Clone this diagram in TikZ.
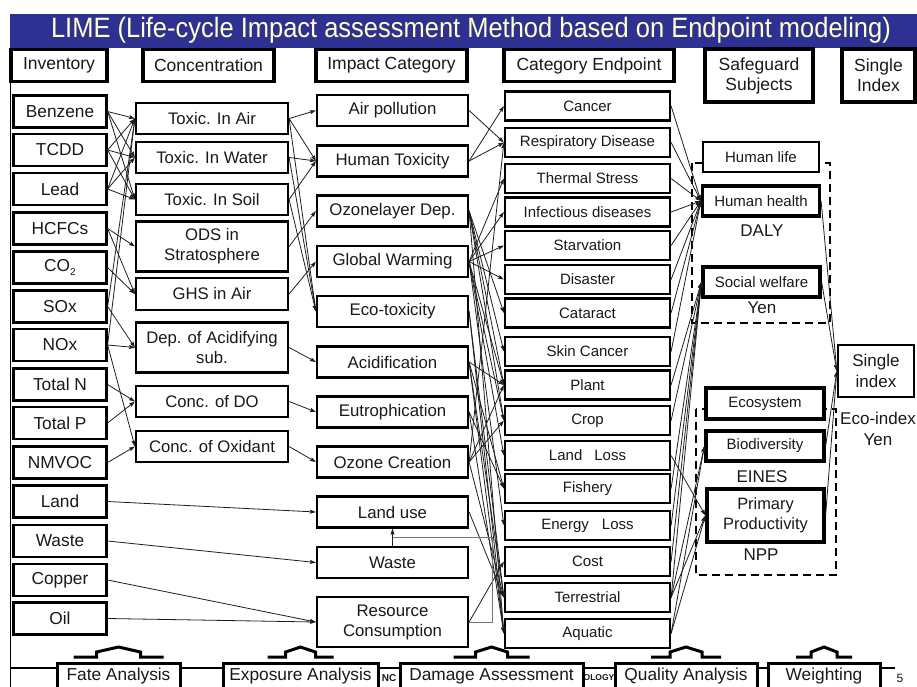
\documentclass[tikz,border=0pt]{standalone}
\usepackage{fontspec}
\usepackage{graphicx}
\setmainfont{Liberation Sans}
\usetikzlibrary{arrows.meta}
\definecolor{barblue}{RGB}{46,49,146}
\definecolor{bartext}{RGB}{255,255,204}
\definecolor{ink}{RGB}{25,25,25}
\definecolor{wire}{RGB}{30,30,30}
\definecolor{greywire}{RGB}{115,115,115}
\newcommand{\fsz}[2]{\fontsize{#1}{#2}\selectfont}
% raised "hat" drawn above each footer label: centre, outer and inner half widths
\newcommand{\footcap}[3]{%
  \draw[capline] ({#1-#2},657) -- ({#1-#3},657) -- ({#1-#3},652) -- (#1,647)
    -- ({#1+#3},652) -- ({#1+#3},657) -- ({#1+#2},657);}
% open-bottom frame round a footer label
\newcommand{\footframe}[2]{%
  \fill[white] (#1,663) rectangle (#2,687);
  \draw[capline] (#1,687) -- (#1,663) -- (#2,663) -- (#2,687);}
\begin{document}
\begin{tikzpicture}[x=1pt,y=-1pt,
  base/.style={draw=black,fill=white,text=ink,inner sep=1pt,align=center},
  hdr/.style={base,line width=3.2pt,font=\fsz{17.5}{20}},
  inv/.style={base,line width=2.2pt,minimum width=93pt,minimum height=32pt,font=\fsz{17.3}{20}},
  conc/.style={base,line width=2.2pt,minimum width=152pt,minimum height=31pt,font=\fsz{16.7}{20}},
  imp/.style={base,line width=2.2pt,minimum width=151pt,minimum height=31pt,font=\fsz{16.8}{20}},
  endp/.style={base,line width=2.2pt,minimum width=165pt,minimum height=29pt,font=\fsz{15}{18}},
  safe/.style={base,line width=3.2pt,minimum width=117pt,minimum height=30pt,font=\fsz{15}{20}},
  tag/.style={text=ink,inner sep=0pt,font=\fsz{17}{21},align=center},
  foot/.style={text=ink,inner sep=0pt,font=\fsz{17.3}{20}},
  conn/.style={draw=wire,line width=0.8pt,-{Stealth[length=6pt,width=4pt,inset=1pt]}},
  greylink/.style={draw=greywire,line width=0.9pt},
  dashbox/.style={draw=black,line width=2pt,dash pattern=on 8pt off 5pt},
  capline/.style={draw=black,line width=3pt,line join=miter},
]
\useasboundingbox (0,0) rectangle (917,687);
\fill[white] (0,0) rectangle (917,687);

% title bar
\fill[barblue] (10,14) rectangle (917,48);
\node[inner sep=0pt,text=bartext] (title) at (471,30.5)
  {\scalebox{0.91}[1]{\fsz{28}{28}LIME (Life-cycle Impact assessment Method based on Endpoint modeling)}};

% slide frame lines
\draw[line width=1.2pt] (10.5,48) -- (10.5,687);
\draw[line width=1.2pt] (10.5,668) -- (895,668);

% column headers
\node[hdr,minimum width=96pt,minimum height=32pt] (hInv) at (59,65.5) {Inventory};
\node[hdr,minimum width=131pt,minimum height=32pt] (hConc) at (208.5,65.5) {Concentration};
\node[hdr,minimum width=151pt,minimum height=32pt] (hImp) at (391.5,65.5) {Impact Category};
\node[hdr,minimum width=170pt,minimum height=32pt] (hEnd) at (589,65.5) {Category Endpoint};
\node[hdr,minimum width=108pt,minimum height=53pt] (hSafe) at (759,75.5) {Safeguard\\Subjects};
\node[hdr,minimum width=73pt,minimum height=53pt] (hSingle) at (878.5,75.5) {Single\\Index};

% dashed groupings of safeguard subjects
\draw[dashbox] (692,163) rectangle (830,323);
\draw[dashbox] (696,409) rectangle (836,575);

% inventory
\node[inv] (benz)   at (60,111.5) {Benzene};
\node[inv] (tcdd)   at (60,150)   {TCDD};
\node[inv] (lead)   at (60,189)   {Lead};
\node[inv] (hcfc)   at (60,228.5) {HCFCs};
\node[inv] (co2)    at (60,267.5) {CO\raisebox{-0.4ex}{\fsz{10}{10}2}};
\node[inv] (sox)    at (60,306.5) {SOx};
\node[inv] (nox)    at (60,345)   {NOx};
\node[inv] (totn)   at (60,384.5) {Total N};
\node[inv] (totp)   at (60,423)   {Total P};
\node[inv] (nmvoc)  at (60,462.5) {NMVOC};
\node[inv] (land)   at (60,501.5) {Land};
\node[inv] (wastei) at (60,541)   {Waste};
\node[inv] (copper) at (60,580)   {Copper};
\node[inv] (oil)    at (60,618.5) {Oil};

% concentration
\node[conc] (tair)   at (212,118.5) {Toxic. In Air};
\node[conc] (twater) at (212,157.5) {Toxic. In Water};
\node[conc] (tsoil)  at (212,199.5) {Toxic. In Soil};
\node[conc,minimum height=50pt] (ods) at (212,246.5) {ODS in\\Stratosphere};
\node[conc,minimum height=32pt] (ghs) at (212,294) {GHS in Air};
\node[conc,minimum height=50pt] (dep) at (212,347.5) {Dep. of Acidifying\\sub.};
\node[conc] (cdo)    at (212,401.5) {Conc. of DO};
\node[conc] (cox)    at (212,446.5) {Conc. of Oxidant};

% impact categories
\node[imp] (airp)   at (392.5,110.5) {Air pollution};
\node[imp] (htox)   at (392.5,161)   {Human Toxicity};
\node[imp] (ozl)    at (392.5,211)   {Ozonelayer Dep.};
\node[imp] (gw)     at (392.5,261.5) {Global Warming};
\node[imp] (ecot)   at (392.5,311.5) {Eco-toxicity};
\node[imp] (acid)   at (392.5,362)   {Acidification};
\node[imp] (eutro)  at (392.5,412)   {Eutrophication};
\node[imp] (ozc)    at (392.5,462)   {Ozone Creation};
\node[imp] (luse)   at (392.5,512)   {Land use};
\node[imp] (wastec) at (392.5,562.5) {Waste};
\node[imp,minimum height=50pt] (resc) at (392.5,622) {Resource\\Consumption};

% category endpoints
\node[endp] (cancer) at (587.5,106)   {Cancer};
\node[endp] (resp)   at (587.5,142.5) {Respiratory Disease};
\node[endp] (therm)  at (587.5,178.5) {Thermal Stress};
\node[endp] (infect) at (587.5,212)   {Infectious diseases};
\node[endp] (starv)  at (587.5,245.5) {Starvation};
\node[endp] (disas)  at (587.5,279.5) {Disaster};
\node[endp] (catar)  at (587.5,313)   {Cataract};
\node[endp] (skin)   at (587.5,351.5) {Skin Cancer};
\node[endp] (plant)  at (587.5,385)   {Plant};
\node[endp] (crop)   at (587.5,420.5) {Crop};
\node[endp] (lloss)  at (587.5,455.5) {Land\hspace{12pt}Loss};
\node[endp] (fish)   at (587.5,488.5) {Fishery};
\node[endp] (energy) at (587.5,525.5) {Energy\hspace{13pt}Loss};
\node[endp] (cost)   at (587.5,561.5) {Cost};
\node[endp] (terr)   at (587.5,597.5) {Terrestrial};
\node[endp] (aqua)   at (587.5,633.5) {Aquatic};

% safeguard subjects
\node[safe,line width=2.2pt,minimum width=116pt] (hlife) at (761,157) {Human life};
\node[safe] (hhealth) at (761,201)   {Human health};
\node[tag]  (daly)    at (762,231)   {DALY};
\node[safe] (swel)    at (761.5,282) {Social welfare};
\node[tag]  (yen1)    at (762,308)   {Yen};
\node[safe,minimum width=118pt,minimum height=31pt] (ecosys) at (765,403.5) {Ecosystem};
\node[safe,minimum width=118pt] (biod) at (765,446) {Biodiversity};
\node[tag]  (eines)   at (762,477)   {EINES};
\node[safe,minimum width=117pt,minimum height=53pt,font=\fsz{16.4}{20}] (prim) at (765.5,515.5) {Primary\\Productivity};
\node[tag]  (npp)     at (761,555)   {NPP};

% single index
\node[base,line width=2.4pt,minimum width=76pt,minimum height=52pt,font=\fsz{17}{21}] (single) at (876,371) {Single\\index};
\node[tag] (ecoidx) at (878,428.5) {Eco-index\\Yen};

% inventory -> concentration
\foreach \s/\t in {benz/tair,benz/twater,benz/tsoil,tcdd/tair,tcdd/twater,tcdd/tsoil,
  lead/tair,lead/twater,lead/tsoil,hcfc/ods,hcfc/ghs,co2/ghs,sox/tair,nox/tair,
  sox/dep,nox/dep,nox/cox,totn/cdo,totp/cdo,nmvoc/cox}
  \draw[conn] (\s.east) -- (\t.west);

% inventory -> impact category (direct)
\foreach \s/\t in {land/luse,wastei/wastec,copper/resc,oil/resc}
  \draw[conn] (\s.east) -- (\t.west);

% concentration -> impact category
\foreach \s/\t in {tair/airp,tair/htox,tair/ecot,twater/htox,twater/ecot,tsoil/htox,
  tsoil/ecot,ods/ozl,ghs/gw,dep/acid,cdo/eutro,cox/ozc}
  \draw[conn] (\s.east) -- (\t.west);

% impact category -> category endpoint
\foreach \s/\t in {airp/resp,htox/cancer,htox/resp,
  ozl/catar,ozl/skin,ozl/plant,ozl/crop,ozl/aqua,
  gw/therm,gw/infect,gw/starv,gw/disas,gw/plant,gw/crop,gw/lloss,gw/energy,
  ecot/terr,ecot/aqua,acid/plant,acid/fish,acid/terr,acid/aqua,
  eutro/fish,eutro/aqua,ozc/resp,ozc/plant,ozc/crop,ozc/terr,
  luse/terr,resc/cost}
  \draw[conn] (\s.east) -- (\t.west);

% waste and resource consumption feed land use
\coordinate (lujoin) at (392.5,537);
\coordinate (rbend1) at (492,622);
\coordinate (rbend2) at (492,537);
\draw[greylink] (resc.east) -- (rbend1) -- (rbend2) -- (lujoin);
\draw[conn] (wastec.north) -- (luse.south);

% category endpoint -> safeguard subjects
\foreach \s/\t in {cancer/hhealth,resp/hhealth,therm/hhealth,infect/hhealth,
  starv/hhealth,disas/hhealth,catar/hhealth,skin/hhealth,
  plant/swel,crop/swel,fish/swel,energy/swel,cost/swel,terr/swel,
  terr/biod,aqua/biod,lloss/prim,terr/prim,aqua/prim}
  \draw[conn] (\s.east) -- (\t.west);

% safeguard subjects -> single index
\foreach \s in {hhealth,swel,biod,prim}
  \draw[conn] (\s.east) -- (single.west);

% footer strip
\node[inner sep=0pt,font=\bfseries\fsz{10}{10},text=ink] (ftA) at (389,678) {NC};
\node[inner sep=0pt,font=\bfseries\fsz{8.5}{10},text=ink] (ftB) at (599,678) {OLOGY};
\footframe{57}{180}   \footcap{118.5}{45}{22}
\footframe{223}{378}  \footcap{300.5}{33}{15}
\footframe{400}{583}  \footcap{491.5}{38}{16}
\footframe{615}{757}  \footcap{686}{35}{16}
\footframe{768}{880}  \footcap{824}{28}{13}
\node[foot] (fFate)   at (118.5,676) {Fate Analysis};
\node[foot] (fExp)    at (300.5,676) {Exposure Analysis};
\node[foot] (fDam)    at (491.5,676) {Damage Assessment};
\node[foot] (fQual)   at (686,676)   {Quality Analysis};
\node[foot] (fWeight) at (824,676)   {Weighting};
\node[inner sep=0pt,font=\fsz{12}{12},text=ink] (pageno) at (900,678) {5};
\end{tikzpicture}
\end{document}
